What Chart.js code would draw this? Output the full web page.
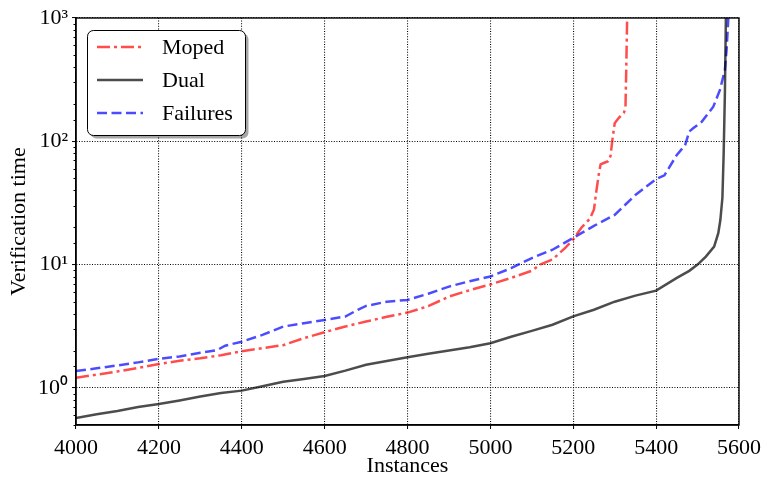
<!DOCTYPE html>
<html><head><meta charset="utf-8">
<script src="https://cdn.jsdelivr.net/npm/chart.js@4/dist/chart.umd.min.js"></script>
<style>html,body{margin:0;padding:0;background:#fff;}#wrap{width:764px;height:478px;}</style>
</head><body><div id="wrap"><canvas id="c" width="764" height="478"></canvas></div>
<script>
const seriesNames = ['Moped', 'Dual', 'Failures'];
const xTickValues = [4000, 4200, 4400, 4600, 4800, 5000, 5200, 5400, 5600];
const yMajorValues = [1, 10, 100, 1000];
const yTickLabels = ['10\u2070', '10\u00B9', '10\u00B2', '10\u00B3'];
const xTitle = 'Instances';
const yTitle = 'Verification time';

const mopedX = [4000,4050,4100,4150,4200,4250,4300,4350,4400,4450,4500,4550,4600,4650,4700,4750,4800,4850,4900,4950,5000,5050,5100,5120,5150,5180,5200,5220,5240,5250,5256,5262,5266,5275,5284,5290,5294,5300,5310,5322,5326,5328,5331];
const mopedY = [1.21,1.28,1.36,1.45,1.56,1.66,1.74,1.84,1.98,2.1,2.22,2.53,2.83,3.15,3.45,3.77,4.08,4.6,5.5,6.2,6.9,7.8,8.9,10,11,13.6,16,20,23.5,28,40,55,65,67,69,76,100,140,155,170,185,400,1500];

const dualX = [4000,4050,4100,4150,4200,4250,4300,4350,4400,4450,4500,4550,4600,4650,4700,4750,4800,4850,4900,4950,5000,5050,5100,5150,5200,5250,5300,5350,5400,5450,5480,5500,5520,5540,5550,5555,5560,5563,5566,5569];
const dualY = [0.57,0.61,0.65,0.70,0.74,0.79,0.85,0.91,0.95,1.03,1.12,1.18,1.25,1.38,1.54,1.65,1.77,1.89,2.01,2.14,2.30,2.6,2.9,3.25,3.8,4.3,5.0,5.6,6.15,7.8,8.9,10,11.6,14,18,23,35,80,250,1500];

const failX = [4000,4050,4100,4150,4200,4250,4300,4340,4360,4400,4450,4500,4550,4600,4650,4680,4700,4750,4800,4850,4900,4950,5000,5050,5100,5150,5200,5250,5300,5350,5400,5420,5450,5470,5480,5490,5510,5538,5554,5566,5570,5574,5577];
const failY = [1.37,1.44,1.52,1.61,1.72,1.8,1.93,2.02,2.2,2.37,2.69,3.14,3.35,3.56,3.79,4.3,4.62,5.0,5.17,5.8,6.63,7.33,8.0,9.35,11.3,13.2,16.5,20.6,25.3,36.7,49.3,53,77.6,93,120,128,144,191,261,380,550,960,1500];

const FONT = "'Liberation Serif', 'Times New Roman', serif";
const pts = (xs, ys) => xs.map((x, i) => ({x: x, y: ys[i]}));
const isMajor = v => Math.abs(Math.log10(v) - Math.round(Math.log10(v))) < 1e-9;

const framePlugin = {
  id: 'frameAndLegend',
  afterDraw(chart) {
    const {ctx, chartArea: a, scales} = chart;
    ctx.save();
    ctx.strokeStyle = '#000'; ctx.lineWidth = 1; ctx.setLineDash([]);
    scales.y.ticks.forEach(t => {
      if (!isMajor(t.value)) {
        const py = Math.round(scales.y.getPixelForValue(t.value)) + 0.5;
        ctx.beginPath(); ctx.moveTo(a.left - 2.5, py); ctx.lineTo(a.left, py); ctx.stroke();
      }
    });
    ctx.lineWidth = 1.4; ctx.strokeStyle = '#000';
    ctx.strokeRect(a.left, a.top, a.right - a.left, a.bottom - a.top);
    const lx = 87.5, ly = 30.5, lw = 158, lh = 105, r = 6;
    const rr = (x, y, w, h) => { ctx.beginPath(); ctx.moveTo(x + r, y); ctx.arcTo(x + w, y, x + w, y + h, r); ctx.arcTo(x + w, y + h, x, y + h, r); ctx.arcTo(x, y + h, x, y, r); ctx.arcTo(x, y, x + w, y, r); ctx.closePath(); };
    ctx.fillStyle = 'rgba(0,0,0,0.35)'; rr(lx + 3, ly + 3, lw, lh); ctx.fill();
    ctx.fillStyle = '#fff'; rr(lx, ly, lw, lh); ctx.fill();
    ctx.strokeStyle = '#000'; ctx.lineWidth = 1; rr(lx, ly, lw, lh); ctx.stroke();
    const rowsY = [47, 80, 113];
    chart.data.datasets.forEach((ds, i) => {
      const y = rowsY[i];
      ctx.strokeStyle = ds.borderColor; ctx.lineWidth = ds.borderWidth;
      ctx.setLineDash(ds.borderDash || []);
      ctx.beginPath(); ctx.moveTo(97, y); ctx.lineTo(143, y); ctx.stroke();
      ctx.setLineDash([]);
      ctx.fillStyle = '#000'; ctx.font = '22px ' + FONT; ctx.textBaseline = 'middle'; ctx.textAlign = 'left';
      ctx.fillText(ds.label, 162, y + 1);
    });
    ctx.restore();
  }
};

new Chart(document.getElementById('c'), {
  type: 'line',
  data: {
    datasets: [
      {label: seriesNames[0], data: pts(mopedX, mopedY), borderColor: 'rgba(255,0,0,0.7)', borderWidth: 2.5, borderDash: [13, 4, 3, 4], pointRadius: 0, tension: 0, fill: false},
      {label: seriesNames[1], data: pts(dualX, dualY), borderColor: 'rgba(0,0,0,0.7)', borderWidth: 2.5, pointRadius: 0, tension: 0, fill: false},
      {label: seriesNames[2], data: pts(failX, failY), borderColor: 'rgba(0,0,255,0.7)', borderWidth: 2.5, borderDash: [10, 4.5], pointRadius: 0, tension: 0, fill: false}
    ]
  },
  options: {
    responsive: false, animation: false, devicePixelRatio: 1,
    layout: {padding: {top: 18, right: 25, left: 0, bottom: 0}},
    plugins: {legend: {display: false}, tooltip: {enabled: false}},
    scales: {
      x: {
        type: 'linear', min: 4000, max: 5600,
        afterBuildTicks: s => { s.ticks = xTickValues.map(v => ({value: v})); },
        afterFit: s => { s.height = 53; s.paddingLeft = 0; s.paddingRight = 0; },
        ticks: {color: '#000', font: {family: FONT, size: 22}, padding: 6, maxRotation: 0, autoSkip: false, callback: v => String(v)},
        grid: {color: '#000', lineWidth: 1.1, tickLength: 4, tickColor: '#000', tickWidth: 1, tickBorderDash: []},
        border: {display: true, color: '#000', width: 1.4, dash: [1, 1.6]},
        title: {display: true, text: xTitle, color: '#000', font: {family: FONT, size: 22}, padding: {top: 0, bottom: -1}}
      },
      y: {
        type: 'logarithmic', min: 0.5, max: 1000,
        afterFit: s => { s.width = 76; s.paddingTop = 0; s.paddingBottom = 0; },
        ticks: {color: '#000', font: {family: FONT, size: 22}, padding: 4, autoSkip: false,
          callback: v => { const k = yMajorValues.findIndex(m => Math.abs(m - v) < 1e-9 * m); return k >= 0 ? yTickLabels[k] : ''; }},
        grid: {
          color: c => (c.tick && isMajor(c.tick.value)) ? '#000' : 'rgba(0,0,0,0)',
          tickColor: c => (c.tick && isMajor(c.tick.value)) ? '#000' : 'rgba(0,0,0,0)',
          lineWidth: 1.1, tickLength: 4, tickWidth: 1, tickBorderDash: []
        },
        border: {display: true, color: '#000', width: 1.4, dash: [1, 1.6]},
        title: {display: true, text: yTitle, color: '#000', font: {family: FONT, size: 22}, padding: {top: 6, bottom: 0}}
      }
    }
  },
  plugins: [framePlugin]
});
</script></body></html>
